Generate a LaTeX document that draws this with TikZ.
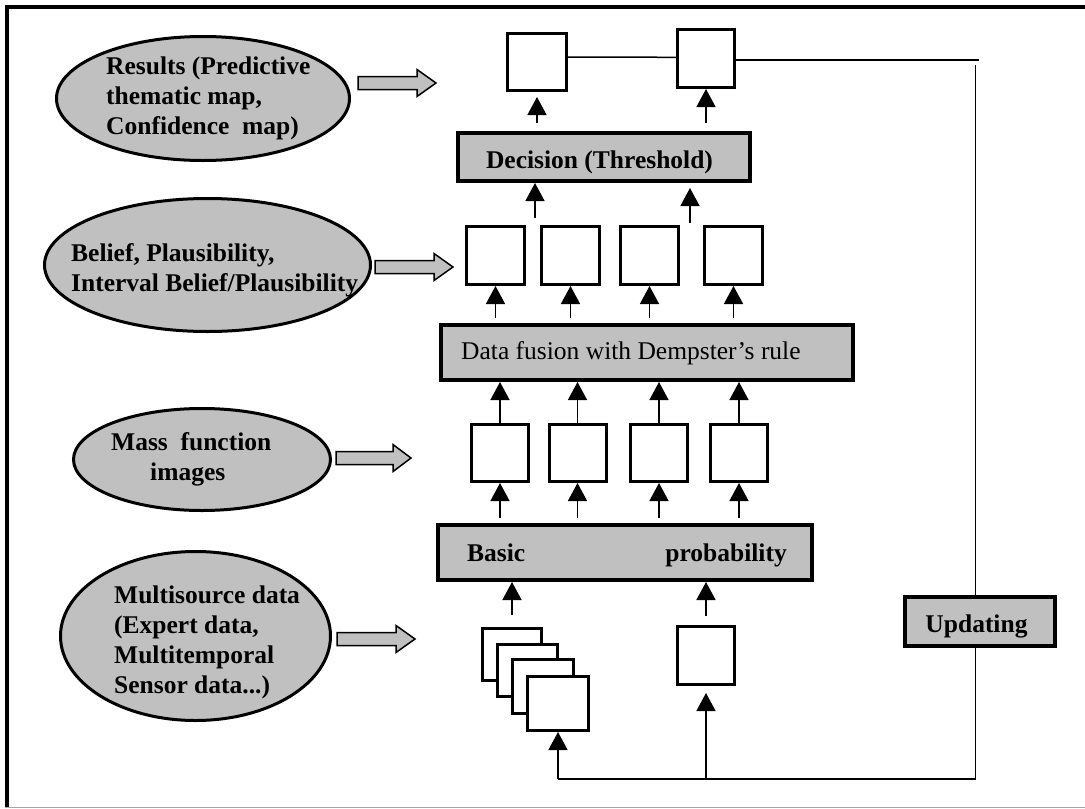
\documentclass[tikz,border=0pt]{standalone}
\usepackage{fontspec}
\setmainfont{Liberation Serif}
\usetikzlibrary{arrows.meta,shapes.geometric}
\definecolor{fillgray}{HTML}{C0C0C0}
\newcommand{\blockarrow}[4]{\draw[barrow] (#1,{#4-6.5}) -- (#2,{#4-6.5}) -- (#2,{#4-13.5}) -- (#3,#4) -- (#2,{#4+13.5}) -- (#2,{#4+6.5}) -- (#1,{#4+6.5}) -- cycle;}
\begin{document}
\begin{tikzpicture}[x=1pt,y=-1pt,
  every node/.style={font=\fontsize{25.5}{30}\selectfont},
  whitebox/.style={draw,line width=3pt,fill=white,inner sep=0pt},
  graybox/.style={draw,line width=4pt,fill=fillgray,inner sep=0pt},
  oval/.style={ellipse,draw,line width=3pt,fill=fillgray,inner sep=0pt},
  otext/.style={anchor=west,align=left,inner sep=0pt,font=\fontsize{25.5}{30}\selectfont\bfseries},
  btext/.style={inner sep=0pt,font=\fontsize{25.5}{30}\selectfont\bfseries},
  ntext/.style={inner sep=0pt,font=\fontsize{25.5}{30}\selectfont},
  conn/.style={line width=1.5pt,-{Triangle[width=19pt,length=18pt]}},
  fline/.style={line width=1.5pt},
  barrow/.style={draw,line width=1.5pt,fill=fillgray,line join=miter}]
\useasboundingbox (0,0) rectangle (1085,809);
% frame
\draw[line width=4pt] (7,808) -- (7,7) -- (1085,7);
\draw[line width=1.5pt,gray!70] (5,807.5) -- (1085,807.5);

% ellipses
\node[oval,minimum width=293pt,minimum height=124pt] (E1) at (203,98.5) {};
\node[oval,minimum width=326pt,minimum height=133pt] (E2) at (207.5,265) {};
\node[oval,minimum width=257pt,minimum height=102pt] (E3) at (202,459.5) {};
\node[oval,minimum width=270pt,minimum height=169pt] (E4) at (195.5,636) {};
\node[otext] (E1t) at (106,98) {Results (Predictive\\thematic map,\\Confidence\ \ map)};
\node[otext] (E2t) at (71,270) {Belief, Plausibility,\\Interval Belief/Plausibility};
\node[otext] (E3t) at (111,459) {Mass\ \ function\\\hspace*{39pt}images};
\node[otext] (E4t) at (114,642) {Multisource data\\(Expert data,\\Multitemporal\\Sensor data...)};

% block arrows
\blockarrow{358}{417}{436}{83}
\blockarrow{375}{434}{453}{267}
\blockarrow{336}{393}{411}{458}
\blockarrow{337}{396}{415}{639}

% top boxes
\node[whitebox,minimum width=59pt,minimum height=57pt] (T1) at (537,62) {};
\node[whitebox,minimum width=57pt,minimum height=58pt] (T2) at (706,58.5) {};
\node[graybox,minimum width=292pt,minimum height=48pt] (Dec) at (604,157) {};
\node[btext,anchor=base] (Dect) at ([xshift=-4.5pt,yshift=-11pt]Dec.center) {Decision (Threshold)};

% belief boxes
\foreach \n/\x in {B1/495.5,B2/570.5,B3/649.5,B4/733.5}
  \node[whitebox,minimum width=58pt,minimum height=58pt] (\n) at (\x,255.5) {};
\node[graybox,minimum width=412pt,minimum height=55pt] (DF) at (647,352.5) {};
\node[ntext,anchor=base west] (DFt) at ([xshift=22pt,yshift=-6.5pt]DF.west) {Data fusion with Dempster’s rule};

% mass boxes
\foreach \n/\x in {M1/500,M2/577.5,M3/659,M4/739}
  \node[whitebox,minimum width=57pt,minimum height=57pt] (\n) at (\x,453) {};
\node[graybox,minimum width=374pt,minimum height=55pt] (BPA) at (625,552.5) {};
\node[btext,anchor=base west] (BPAt1) at ([xshift=31pt,yshift=-8.5pt]BPA.west) {Basic};
\node[btext,anchor=base east] (BPAt2) at ([xshift=-27pt,yshift=-8.5pt]BPA.east) {probability};

% data stack
\node[whitebox,minimum width=59pt,minimum height=52pt] (S1) at (512,654.5) {};
\node[whitebox,minimum width=60pt,minimum height=52pt] (S2) at (527.5,670.5) {};
\node[whitebox,minimum width=61pt,minimum height=54pt] (S3) at (543,686.5) {};
\node[whitebox,minimum width=61pt,minimum height=54pt] (S4) at (558,703.5) {};
\node[whitebox,minimum width=57pt,minimum height=58pt] (Sens) at (706,655.5) {};

% updating
\node[graybox,minimum width=150pt,minimum height=49pt] (Upd) at (980,621.5) {};
\node[btext,anchor=base] (Updt) at ([xshift=-3.5pt,yshift=-10.5pt]Upd.center) {Updating};

% connectors
\draw[conn,shorten <=8pt,shorten >=5pt] (Dec.north -| T1) -- (T1.south);
\draw[conn,shorten <=8pt] (Dec.north -| T2) -- (T2.south);
\coordinate (d1) at (535,218);
\coordinate (d2) at (690,223);
\draw[conn] (d1) -- (d1 |- Dec.south);
\draw[conn,shorten >=5pt] (d2) -- (d2 |- Dec.south);
\foreach \b in {B1,B2,B3,B4}
  \draw[conn,shorten <=5pt] (DF.north -| \b) -- (\b.south);
\foreach \m in {M1,M2,M3,M4}{
  \draw[conn] (\m.north) -- (\m.north |- DF.south);
  \draw[conn,shorten <=5pt] (BPA.north -| \m) -- (\m.south);
}
\draw[conn,shorten <=12pt] (S1.north) -- (S1.north |- BPA.south);
\draw[conn,shorten <=9pt] (Sens.north) -- (Sens.north |- BPA.south);

% feedback loop
\coordinate (fb) at (975.5,779);
\coordinate (ft) at (975.5,65);
\coordinate (fe) at (979,60);
\draw[fline] (Upd.south -| fb) -- (fb) -- (fb -| S4);
\draw[conn] (fb -| S4) -- (S4.south);
\draw[conn,shorten >=7pt] (fb -| Sens) -- (Sens.south);
\draw[fline] (ft) -- (ft |- Upd.north);
\draw[fline] ([yshift=5pt]T1.east) -- ([yshift=1.2pt]T2.west);
\draw[fline] (T2.east |- fe) -- (fe);
\end{tikzpicture}
\end{document}
